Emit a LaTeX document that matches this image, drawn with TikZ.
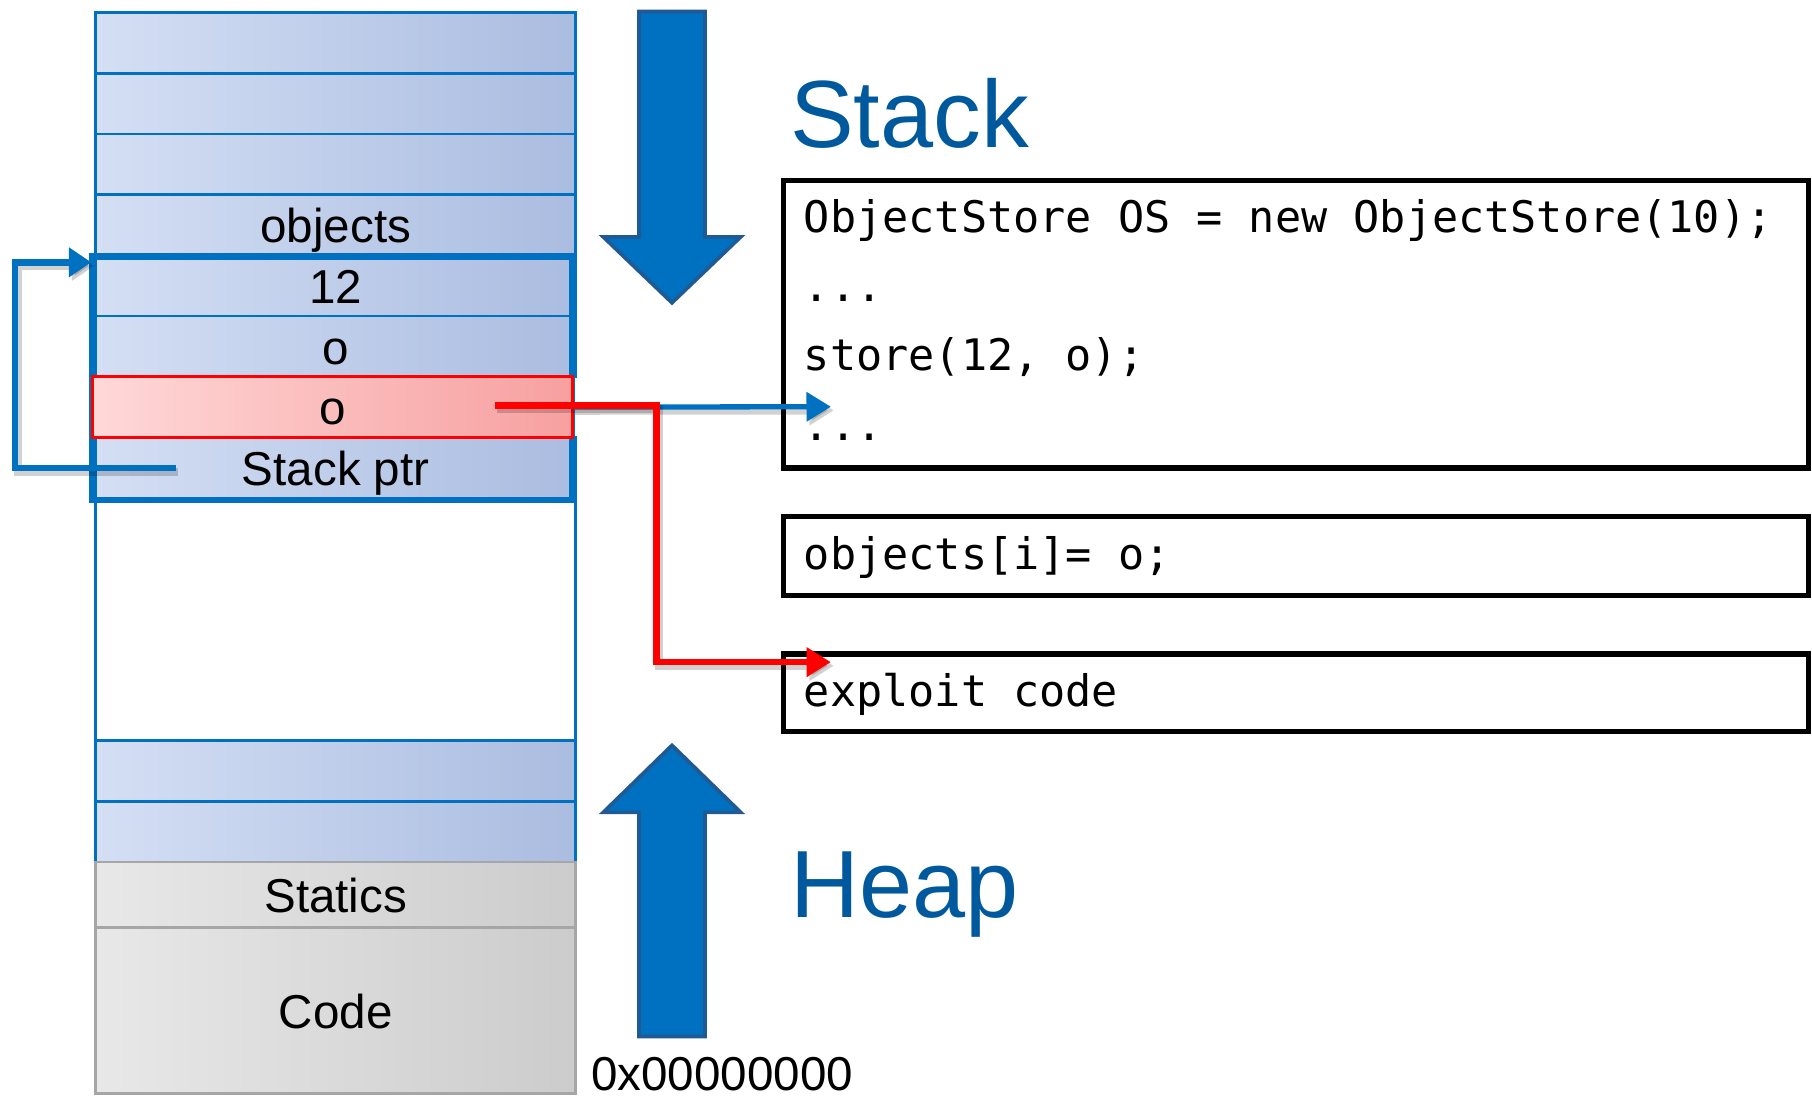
\documentclass[tikz,border=0pt]{standalone}
\usepackage{fontspec}
\setmainfont{Liberation Sans}
\newfontfamily\codefont{DejaVu Sans Mono}
\usetikzlibrary{arrows.meta}
\definecolor{ublue}{HTML}{0070C0}
\definecolor{tblue}{HTML}{00599C}
\definecolor{adraw}{HTML}{1F5A94}
\definecolor{rowL}{HTML}{D4DFF4}
\definecolor{rowR}{HTML}{AABCE0}
\definecolor{redL}{HTML}{FFD8D8}
\definecolor{redR}{HTML}{F7A0A0}
\definecolor{grayL}{HTML}{E8E8E8}
\definecolor{grayR}{HTML}{CCCCCC}
\definecolor{grayB}{HTML}{A6A6A6}
\definecolor{cred}{HTML}{FF0000}
\tikzset{
  cell/.style={minimum width=4.15cm, inner sep=0pt, outer sep=0pt,
    text height=0.31cm, text depth=0cm, font=\fontsize{11.7}{14}\selectfont},
  memrow/.style={cell, draw=ublue, line width=0.7pt, left color=rowL, right color=rowR, minimum height=0.525cm},
  redrowst/.style={cell, draw=cred, line width=0.7pt, left color=redL, right color=redR, minimum height=0.525cm},
  grayrow/.style={cell, draw=grayB, line width=0.7pt, left color=grayL, right color=grayR},
  codebox/.style={draw=black, line width=1.3pt, minimum width=8.87cm, inner sep=0pt, outer sep=0pt},
  codeline/.style={anchor=base west, inner sep=0pt, font=\codefont\fontsize{10.7}{13}\selectfont},
  bigtitle/.style={anchor=base west, inner sep=0pt, text=tblue, font=\fontsize{23.5}{28}\selectfont},
  bigarrow/.style={fill=ublue, draw=adraw, line width=0.9pt, line join=miter},
  shadowed/.style={preaction={draw=black, opacity=0.18, line width=2pt, transform canvas={xshift=0.7pt, yshift=-0.9pt}}},
  ptrline/.style={draw=ublue, line width=1.7pt, -{Triangle[length=5.5pt, width=7pt]}},
  bline/.style={draw=ublue, line width=1.3pt, -{Triangle[length=6pt, width=7pt]}},
  rline/.style={draw=cred, line width=1.6pt, -{Triangle[length=6pt, width=7pt]}}
}
\begin{document}
\begin{tikzpicture}[x=0.01cm, y=-0.01cm]
\useasboundingbox (0,0) rectangle (1568,949);

% memory column
\node[memrow] (r0) at (290.5,37.25) {};
\node[memrow] (r1) at (290.5,89.75) {};
\node[memrow] (r2) at (290.5,142.25) {};
\node[memrow] (r3) at (290.5,194.75) {objects};
\node[memrow] (r4) at (290.5,247.25) {12};
\node[memrow] (r5) at (290.5,299.75) {o};
\node[memrow] (r7) at (290.5,404.75) {Stack ptr};
\node[cell, draw=ublue, line width=0.7pt, fill=white, minimum height=2.1cm] (free) at (290.5,536) {};
\node[memrow] (r12) at (290.5,667.25) {};
\node[memrow] (r13) at (290.5,719.75) {};
\node[grayrow, minimum height=0.57cm] (statics) at (290.5,774.5) {Statics};
\node[grayrow, minimum height=1.43cm] (code) at (290.5,874.5) {Code};

% thick frame and red row
\node[draw=ublue, line width=1.5pt, minimum width=4.15cm, minimum height=2.11cm, inner sep=0pt, outer sep=0pt] (frame) at (287.5,327.5) {};
\node[redrowst] (r6) at (287.5,352.25) {o};

% big arrows
\draw[bigarrow] (553,10) -- (610,10) -- (610,205) -- (641,205) -- (581.5,262) -- (522,205) -- (553,205) -- cycle;
\draw[bigarrow] (581.5,645) -- (641,703) -- (610,703) -- (610,897) -- (553,897) -- (553,703) -- (522,703) -- cycle;

% titles
\node[bigtitle] (stack) at (683,128) {Stack};
\node[bigtitle] (heap) at (683,794) {Heap};
\node[anchor=base west, inner sep=0pt, font=\fontsize{11.7}{14}\selectfont] (addr) at (511,944) {0x00000000};

% code boxes
\node[codebox, minimum height=2.49cm] (box1) at (1121.5,280.5) {};
\node[codebox, minimum height=0.68cm] (box2) at (1121.5,481) {};
\node[codebox, minimum height=0.67cm] (box3) at (1121.5,599.5) {};
\node[codeline] (l1) at (695,201) {ObjectStore OS = new ObjectStore(10);};
\node[codeline] (l2) at (695,261) {...};
\node[codeline] (l3) at (695,321) {store(12, o);};
\node[codeline] (l4) at (695,381) {...};
\node[codeline] (l5) at (695,493) {objects[i]= o;};
\node[codeline] (l6) at (695,611) {exploit code};

% connectors
\coordinate (spStart) at (152,405);
\coordinate (spEnd) at (79,227);
\draw[ptrline, shadowed] (spStart) -- ++(-139,0) |- (spEnd);

\coordinate (bEnd) at (719,352);
\draw[bline, shadowed] (r6.east) -- (bEnd);

\coordinate (rStart) at (428,351);
\coordinate (rEnd) at (719,573);
\draw[rline, shadowed] (rStart) -- ++(140,0) |- (rEnd);
\end{tikzpicture}
\end{document}
